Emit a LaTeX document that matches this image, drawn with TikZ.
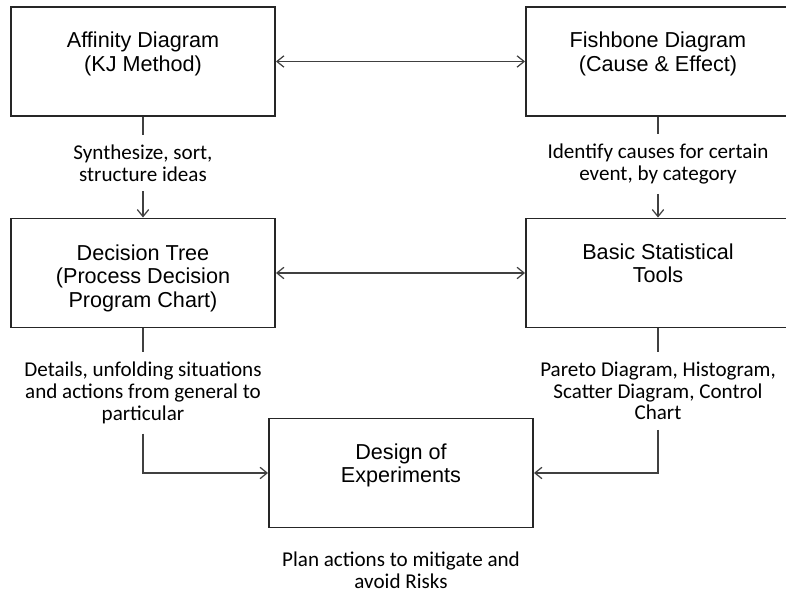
\documentclass[tikz,border=0pt]{standalone}
\usepackage{fontspec}
\usepackage{tikz}
\usetikzlibrary{positioning,arrows.meta}
\usepackage{xcolor}
\newfontfamily\boxfont{Liberation Sans}
\newfontfamily\notefont{Carlito}
\definecolor{edgegray}{RGB}{38,38,38}
\definecolor{linegray}{RGB}{64,64,64}
% pushes the first line of a box title down a little
\newcommand{\boxpad}{\rule{0pt}{15pt}}

\begin{document}
\begin{tikzpicture}[
  toolbox/.style={rectangle,draw=edgegray,line width=1.1pt,text=black,
    font=\boxfont\fontsize{12.3}{13.2}\selectfont,align=center,
    minimum width=5.28cm,minimum height=2.18cm,inner sep=0pt},
  note/.style={font=\notefont\fontsize{12}{12.3}\selectfont,align=center,
    text=black,inner xsep=4pt,inner ysep=5.5pt},
  link/.style={draw=linegray,line width=0.7pt},
  arr/.style={link,-{Straight Barb[length=4pt,width=6.5pt]}},
  twoarr/.style={link,{Straight Barb[length=4pt,width=6.5pt]}-{Straight Barb[length=4pt,width=6.5pt]}}
]
\useasboundingbox (0,0) rectangle (15.72,11.84);
\clip (0,0) rectangle (15.72,11.84);

% Top row
\node[toolbox] (affinity) at (2.86,10.61) {\boxpad Affinity Diagram\\(KJ Method)\\\strut};
\node[toolbox] (fishbone) at (13.16,10.61) {\boxpad Fishbone Diagram\\(Cause \& Effect)\\\strut};

% Middle row
\node[toolbox] (dtree) at (2.86,6.38) {\boxpad Decision Tree\\(Process Decision\\Program Chart)};
\node[toolbox] (stats) at (13.16,6.38) {\boxpad Basic Statistical\\Tools\\\strut};

% Bottom
\node[toolbox] (doe) at (8.02,2.38) {\boxpad Design of\\Experiments\\\strut};

% Notes under the boxes
\node[note] (synth) at (2.86,8.58) {Synthesize, sort,\\structure ideas};
\node[note] (causes) at (13.16,8.56) {Identify causes for certain\\event, by category};
\node[note] (details) at (2.86,3.98) {Details, unfolding situations\\and actions from general to\\particular};
\node[note] (pareto) at (13.16,4.02) {Pareto Diagram, Histogram,\\Scatter Diagram, Control\\Chart};
\node[note] (plan) at (8.02,0.44) {Plan actions to mitigate and\\avoid Risks};

% Connectors
\draw[twoarr] (affinity) -- (fishbone);
\draw[twoarr] (dtree) -- (stats);
\draw[link] (affinity) -- (synth);
\draw[arr] (synth) -- (dtree);
\draw[link] (fishbone) -- (causes);
\draw[arr] (causes) -- (stats);
\draw[link] (dtree) -- (details);
\draw[arr] (details) |- (doe);
\draw[link] (stats) -- (pareto);
\draw[arr] (pareto) |- (doe);

\end{tikzpicture}
\end{document}
